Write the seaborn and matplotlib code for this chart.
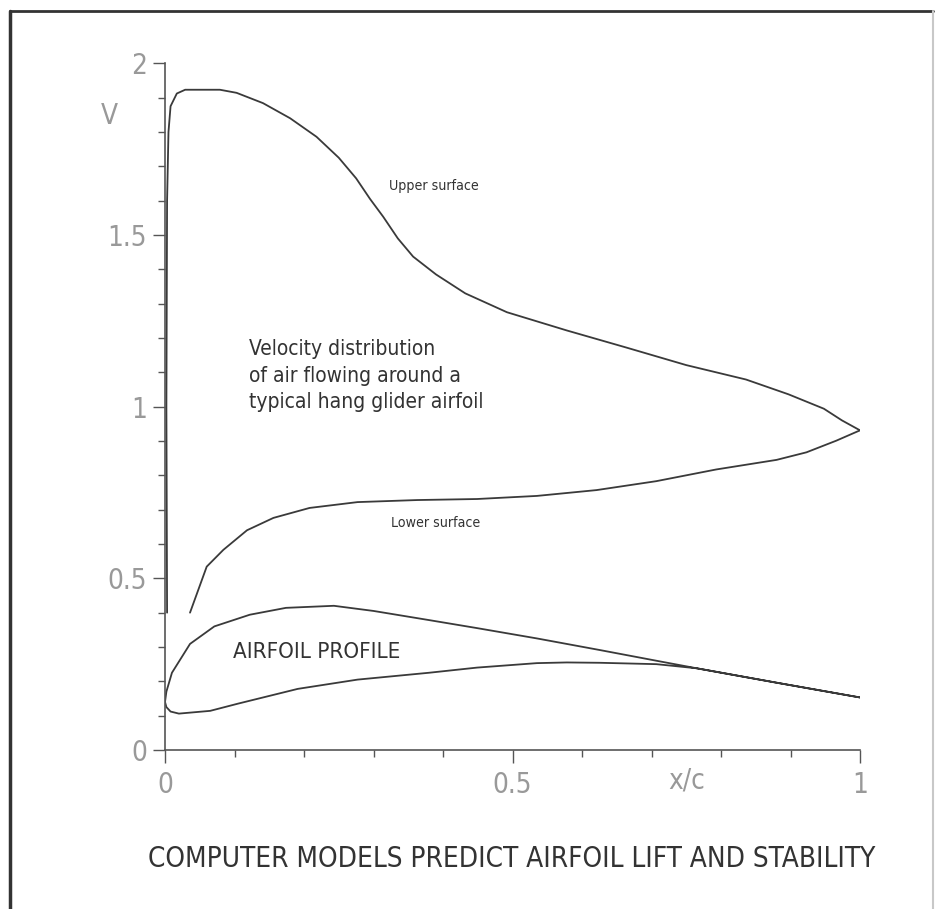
import matplotlib
matplotlib.use("Agg")
import matplotlib.pyplot as plt
import seaborn as sns
import numpy as np
from matplotlib.lines import Line2D

# ---- data ----
upper_x = [0.003, 0.002, 0.003, 0.005, 0.008, 0.017, 0.029, 0.079, 0.103, 0.141, 0.18, 0.218,
           0.25, 0.275, 0.295, 0.314, 0.335, 0.357, 0.39, 0.432, 0.492, 0.578, 0.664, 0.75,
           0.836, 0.897, 0.948, 0.974, 1.0]
upper_v = [0.40, 1.0, 1.6, 1.80, 1.875, 1.912, 1.923, 1.923, 1.914, 1.884, 1.84, 1.786,
           1.725, 1.665, 1.605, 1.553, 1.49, 1.437, 1.385, 1.33, 1.275, 1.222, 1.172, 1.121,
           1.079, 1.036, 0.994, 0.96, 0.931]

lower_x = [0.036, 0.06, 0.084, 0.118, 0.156, 0.208, 0.277, 0.363, 0.449, 0.535, 0.621,
           0.707, 0.793, 0.88, 0.923, 0.966, 1.0]
lower_v = [0.40, 0.534, 0.583, 0.64, 0.676, 0.705, 0.722, 0.728, 0.731, 0.74, 0.757,
           0.783, 0.817, 0.845, 0.867, 0.901, 0.931]

profile_upper_x = [1.0, 0.88, 0.765, 0.707, 0.626, 0.535, 0.449, 0.381, 0.30, 0.243, 0.174,
                   0.122, 0.071, 0.036, 0.01, 0.002, 0.0]
profile_upper_y = [0.153, 0.196, 0.238, 0.26, 0.291, 0.325, 0.355, 0.378, 0.405, 0.42, 0.414,
                   0.394, 0.36, 0.309, 0.225, 0.17, 0.14]
profile_lower_x = [0.0, 0.002, 0.008, 0.02, 0.065, 0.105, 0.191, 0.277, 0.38, 0.449, 0.535,
                   0.578, 0.626, 0.707, 0.765, 0.88, 1.0]
profile_lower_y = [0.14, 0.125, 0.112, 0.106, 0.114, 0.135, 0.178, 0.205, 0.225, 0.24, 0.253,
                   0.255, 0.254, 0.25, 0.238, 0.196, 0.153]

y_major = [0, 0.5, 1, 1.5, 2]
y_labels = ["0", "0.5", "1", "1.5", "2"]
x_major = [0, 0.5, 1]
x_labels = ["0", "0.5", "1"]

# ---- style ----
sns.set_style("white")
FONT = ["DejaVu Sans"]
plt.rcParams["font.family"] = FONT
plt.rcParams["font.stretch"] = "condensed"
ST = "condensed"

fig = plt.figure(figsize=(9.35, 9.09), dpi=100)
ax = fig.add_axes([165 / 935, (909 - 750) / 909, 695 / 935, (750 - 63.3) / 909])

line_c = "#3a3a3a"
sns.lineplot(x=upper_x, y=upper_v, sort=False, estimator=None, ax=ax, color=line_c, lw=1.3)
sns.lineplot(x=lower_x, y=lower_v, sort=False, estimator=None, ax=ax, color=line_c, lw=1.3)
prof_x = profile_upper_x + profile_lower_x[1:]
prof_y = profile_upper_y + profile_lower_y[1:]
sns.lineplot(x=prof_x, y=prof_y, sort=False, estimator=None, ax=ax, color=line_c, lw=1.3)

ax.set_xlim(0, 1)
ax.set_ylim(0, 2)
for s in ["top", "right"]:
    ax.spines[s].set_visible(False)
for s in ["left", "bottom"]:
    ax.spines[s].set_color("#555555")
    ax.spines[s].set_linewidth(1.2)

ax.set_yticks(y_major)
ax.set_yticklabels(y_labels)
ax.set_yticks(np.arange(0, 2.01, 0.1), minor=True)
ax.set_xticks(x_major)
ax.set_xticklabels(x_labels)
ax.set_xticks(np.arange(0, 1.01, 0.1), minor=True)

ax.tick_params(axis="both", which="major", direction="out", length=9, width=1.0,
               color="#555555", labelcolor="#999999", labelsize=20)
ax.tick_params(axis="both", which="minor", direction="out", length=5, width=1.0,
               color="#555555")
ax.tick_params(axis="y", which="major", pad=4)
ax.tick_params(axis="x", which="major", pad=6)
ax.tick_params(left=True, bottom=True, which="both")
for lab in ax.get_xticklabels() + ax.get_yticklabels():
    lab.set_family(FONT)
    lab.set_stretch(ST)

ax.set_xlabel("")
ax.set_ylabel("")

ax.text(0.75, -0.088, "x/c", ha="center", va="center", fontsize=20, color="#999999",
        family=FONT, stretch=ST, clip_on=False)
ax.text(-0.08, 1.846, "V", ha="center", va="center", fontsize=20, color="#999999",
        family=FONT, stretch=ST, clip_on=False)

ax.text(0.322, 1.642, "Upper surface", ha="left", va="center", fontsize=10.2,
        color="#333333", family=FONT, stretch=ST)
ax.text(0.325, 0.66, "Lower surface", ha="left", va="center", fontsize=10.2,
        color="#333333", family=FONT, stretch=ST)
ax.text(0.121, 1.09, "Velocity distribution\nof air flowing around a\ntypical hang glider airfoil",
        ha="left", va="center", fontsize=15, color="#333333", family=FONT, stretch=ST,
        linespacing=1.42)
ax.text(0.098, 0.286, "AIRFOIL PROFILE", ha="left", va="center", fontsize=16,
        color="#333333", family=FONT, stretch=ST)

fig.text(0.547, 0.055, "COMPUTER MODELS PREDICT AIRFOIL LIFT AND STABILITY",
         ha="center", va="center", fontsize=20, color="#333333", family=FONT, stretch=ST)

# frame around the picture
fig.add_artist(Line2D([10 / 935, 10 / 935], [-0.01, (909 - 11) / 909], color="#333333",
                      lw=2.5, transform=fig.transFigure))
fig.add_artist(Line2D([10 / 935, 933 / 935], [(909 - 11) / 909, (909 - 11) / 909],
                      color="#333333", lw=2.0, transform=fig.transFigure))
fig.add_artist(Line2D([933 / 935, 933 / 935], [-0.01, (909 - 11) / 909], color="#c8c8c8",
                      lw=1.5, transform=fig.transFigure))

fig.savefig("out.png", dpi=100)
